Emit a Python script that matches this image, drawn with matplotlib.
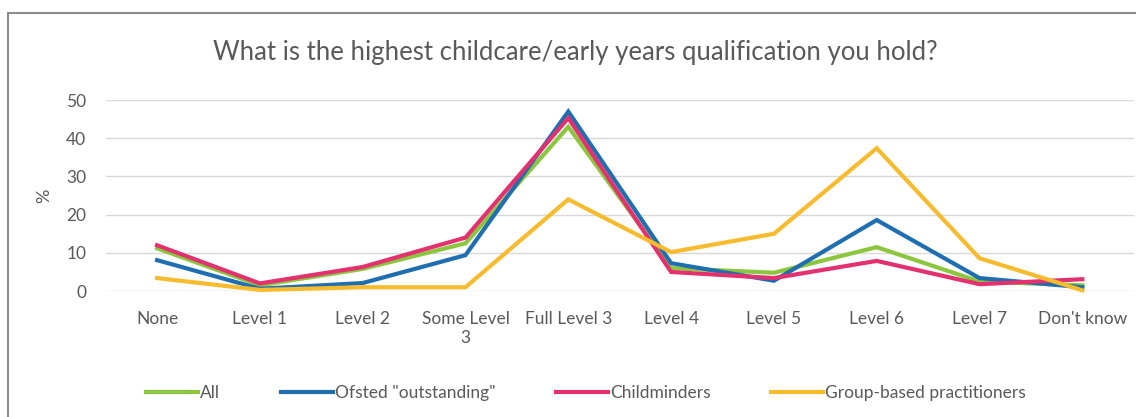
import matplotlib
matplotlib.use('Agg')
import matplotlib.pyplot as plt
from matplotlib.patches import Rectangle

plt.rcParams['font.family'] = ['Lato', 'DejaVu Sans']

# categories and series (% of respondents)
categories = ['None', 'Level 1', 'Level 2', 'Some Level\n3', 'Full Level 3',
              'Level 4', 'Level 5', 'Level 6', 'Level 7', "Don't know"]
all_resp = [11.2, 1.5, 5.8, 12.5, 43.0, 6.0, 4.8, 11.5, 2.5, 1.5]
ofsted = [8.1, 0.6, 2.1, 9.4, 47.0, 7.3, 2.7, 18.6, 3.4, 1.0]
childminders = [12.0, 2.0, 6.3, 14.0, 45.3, 5.0, 3.4, 7.9, 1.8, 3.1]
group_based = [3.4, 0.3, 1.0, 1.0, 24.0, 10.2, 15.0, 37.4, 8.6, 0.2]

series = [
    ('All', all_resp, '#8cc63f'),
    ('Ofsted "outstanding"', ofsted, '#1f6eb0'),
    ('Childminders', childminders, '#e3306f'),
    ('Group-based practitioners', group_based, '#f7bb2e'),
]

grey = '#595959'

fig = plt.figure(figsize=(11.36, 4.17), dpi=100)
ax = fig.add_axes([0.093, 0.302, 0.905, 0.458])

x = range(len(categories))
for label, vals, color in series:
    ax.plot(x, vals, color=color, linewidth=3, label=label,
            solid_joinstyle='miter', clip_on=False, zorder=3)

ax.set_xlim(-0.5, len(categories) - 0.5)
ax.set_ylim(0, 50)
ax.set_yticks(range(0, 51, 10))
ax.set_xticks(list(x))
ax.set_xticklabels(categories, fontsize=12.5, color=grey, linespacing=1.25)
ax.tick_params(axis='y', labelsize=12.5, labelcolor=grey, length=0, pad=14)
ax.tick_params(axis='x', length=0, pad=14)
ax.grid(axis='y', color='#d9d9d9', linewidth=1)
ax.set_axisbelow(True)
for s in ax.spines.values():
    s.set_visible(False)
ax.set_ylabel('%', fontsize=13, color=grey, labelpad=10)

fig.text(0.506, 0.873, 'What is the highest childcare/early years qualification you hold?',
         ha='center', va='center', fontsize=18.5, color=grey)

ax.legend(loc='center', bbox_to_anchor=(0.516, 0.058), bbox_transform=fig.transFigure,
          ncol=4, frameon=False, fontsize=12.5, labelcolor=grey,
          handlelength=3.0, handletextpad=0.1, columnspacing=3.5)

# outer chart border
fig.add_artist(Rectangle((8 / 1136, -0.1), 1.2, 1 - 13 / 417 + 0.1,
                         transform=fig.transFigure, fill=False,
                         edgecolor='#8c8c8c', linewidth=1.5))

fig.savefig('out.png', dpi=100)
